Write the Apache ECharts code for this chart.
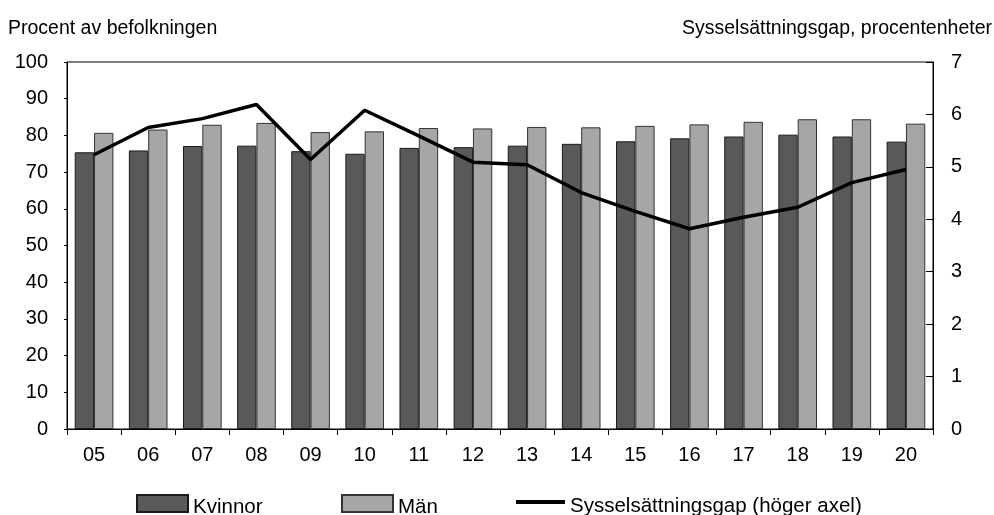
<!DOCTYPE html>
<html>
<head>
<meta charset="utf-8">
<script src="https://cdn.jsdelivr.net/npm/echarts@6/dist/echarts.min.js"></script>
<style>
html,body{margin:0;padding:0;background:#fff;}
#chart{width:994px;height:515px;}
</style>
</head>
<body>
<div id="chart"></div>
<script>
const categories = ['05','06','07','08','09','10','11','12','13','14','15','16','17','18','19','20'];
const kvinnor = [75.4,75.9,77.1,77.2,75.7,75.0,76.6,76.8,77.2,77.7,78.4,79.2,79.7,80.2,79.7,78.3];
const man = [80.7,81.6,82.9,83.4,80.9,81.1,82.0,81.9,82.3,82.2,82.6,83.0,83.7,84.4,84.4,83.2];
const gap = [5.23,5.75,5.92,6.19,5.14,6.08,5.59,5.09,5.04,4.51,4.15,3.82,4.04,4.23,4.70,4.95];
const leftTitle = 'Procent av befolkningen';
const rightTitle = 'Sysselsättningsgap, procentenheter';
const names = ['Kvinnor','Män','Sysselsättningsgap (höger axel)'];

const FONT = 'Liberation Sans, Arial, sans-serif';
const chart = echarts.init(document.getElementById('chart'), null, {renderer:'canvas'});
const legendBase = {
  orient:'horizontal', top:494, itemWidth:51, itemHeight:25, itemGap:0, padding:0,
  textStyle:{fontFamily:FONT, fontSize:20.5, color:'#000'},
  selectedMode:false
};
// icon box 25 px high: filled box in the top 17 px, the rest empty so the label sits lower
const boxIcon = 'path://M0,0h51v17h-51z M50.98,24.98h0.02v0.02h-0.02z';
const lineIcon = 'path://M0,0h0.01v0.01h-0.01z M0,6h49v4h-49z M48.99,24.99h0.01v0.01h-0.01z';
chart.setOption({
  animation:false,
  backgroundColor:'#fff',
  textStyle:{fontFamily:FONT},
  title:[
    {text:leftTitle, left:3, top:14, textStyle:{fontFamily:FONT, fontSize:19.5, fontWeight:'normal', color:'#000'}},
    {text:rightTitle, right:-3, top:14, textStyle:{fontFamily:FONT, fontSize:19.5, fontWeight:'normal', color:'#000'}}
  ],
  legend:[
    Object.assign({}, legendBase, {left:136, data:[{name:names[0], icon:boxIcon}]}),
    Object.assign({}, legendBase, {left:341, data:[{name:names[1], icon:boxIcon}]}),
    Object.assign({}, legendBase, {left:516, itemWidth:49,
      data:[{name:names[2], icon:lineIcon, itemStyle:{color:'#000', borderWidth:0}}]})
  ],
  grid:{left:67, right:61, top:62, bottom:86, show:true, borderColor:'#000', borderWidth:1, backgroundColor:'transparent'},
  xAxis:{
    type:'category', data:categories,
    axisLine:{lineStyle:{color:'#000', width:1}},
    axisTick:{show:true, length:6, lineStyle:{color:'#000'}},
    axisLabel:{color:'#000', fontSize:20, fontFamily:FONT, margin:16}
  },
  yAxis:[
    {type:'value', min:0, max:100, interval:10, position:'left',
     axisLine:{show:true, lineStyle:{color:'#000'}},
     axisTick:{show:true, length:3, lineStyle:{color:'#000'}},
     splitLine:{show:false},
     axisLabel:{color:'#000', fontSize:20, fontFamily:FONT, margin:19}},
    {type:'value', min:0, max:7, interval:1, position:'right',
     axisLine:{show:true, lineStyle:{color:'#000'}},
     axisTick:{show:true, inside:true, length:7, lineStyle:{color:'#000'}},
     splitLine:{show:false},
     axisLabel:{color:'#000', fontSize:20, fontFamily:FONT, margin:18}}
  ],
  series:[
    {name:names[0], type:'bar', data:kvinnor, yAxisIndex:0, barGap:'0%', barCategoryGap:'28.6%',
     itemStyle:{color:'#595959', borderColor:'#1a1a1a', borderWidth:1}},
    {name:names[1], type:'bar', data:man, yAxisIndex:0, barGap:'0%', barCategoryGap:'28.6%',
     itemStyle:{color:'#a6a6a6', borderColor:'#333', borderWidth:1}},
    {name:names[2], type:'line', data:gap, yAxisIndex:1, symbol:'none',
     lineStyle:{color:'#000', width:3.5}, itemStyle:{color:'#000'}, z:5}
  ]
});
</script>
</body>
</html>
